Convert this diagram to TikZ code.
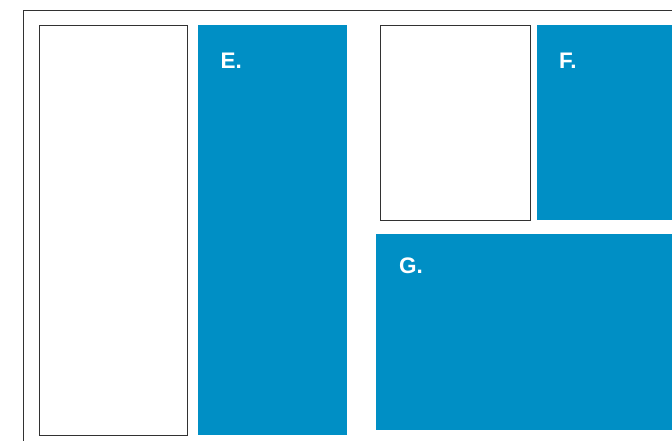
\documentclass[tikz,border=0pt]{standalone}
\usepackage{fontspec}
\setmainfont{Liberation Sans}
\definecolor{panelblue}{RGB}{0,143,197}
\definecolor{frameline}{RGB}{50,50,50}
\begin{document}
\begin{tikzpicture}[x=1pt,y=1pt,
  whitebox/.style={draw=frameline,line width=0.9pt,fill=white},
  bluebox/.style={fill=panelblue},
  lbl/.style={anchor=base west,inner sep=0pt,text=white,font=\fontsize{22.5}{22.5}\selectfont\bfseries}]
\useasboundingbox (0,0) rectangle (672,441);
\clip (0,0) rectangle (672,441);
\fill[white] (0,0) rectangle (672,441);
\draw[frameline,line width=0.9pt] (23,-5) -- (23,430.5) -- (680,430.5);
\path[whitebox] (39,6) rectangle (187,416);
\path[bluebox] (198,5.5) rectangle (347,416);
\path[whitebox] (380,220.5) rectangle (530.5,416);
\path[bluebox] (537,220.5) rectangle (680,416);
\path[bluebox] (376,11) rectangle (680,207);
\node[lbl] (e) at (220.5,372) {E.};
\node[lbl] (f) at (559,372) {F.};
\node[lbl] (g) at (399,167) {G.};
\end{tikzpicture}
\end{document}
